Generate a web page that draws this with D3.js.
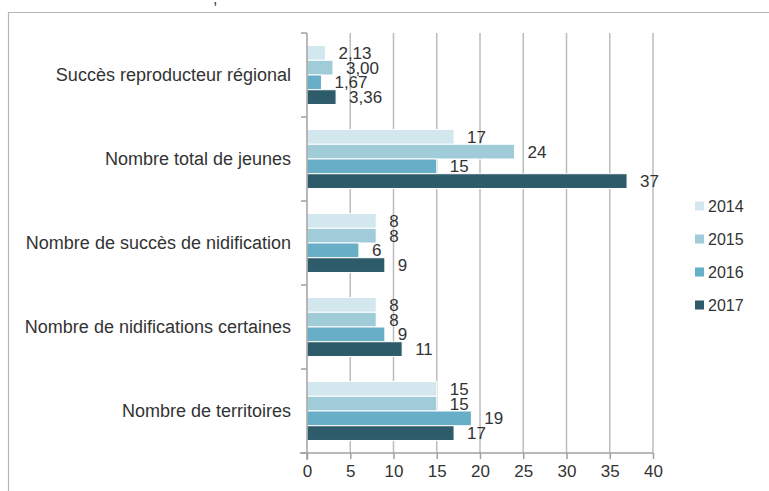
<!DOCTYPE html>
<html><head><meta charset="utf-8">
<script src="https://cdn.jsdelivr.net/npm/d3@7"></script>
<style>
body{margin:0;background:#fff;}
text{font-family:"Liberation Sans",Arial,sans-serif;fill:#333;}
</style></head>
<body><svg id="c" width="769" height="491"></svg>
<script>
const categories = ["Succès reproducteur régional","Nombre total de jeunes","Nombre de succès de nidification","Nombre de nidifications certaines","Nombre de territoires"];
const years = ["2014","2015","2016","2017"];
const v2014 = [2.13, 17, 8, 8, 15];
const v2015 = [3.00, 24, 8, 8, 15];
const v2016 = [1.67, 15, 6, 9, 19];
const v2017 = [3.36, 37, 9, 11, 17];
const decimals = [2, 0, 0, 0, 0];
const xTicks = [0,5,10,15,20,25,30,35,40];
const colors = ["#d3e7ee","#a0cbd9","#68aec6","#2e5b69"];

const series = [v2014, v2015, v2016, v2017];
const fmt = (v,i) => v.toFixed(decimals[i]).replace(".", ",");

const svg = d3.select("#c");
// cut-off text at top
svg.append("text").attr("x",213).attr("y",4).attr("font-size",16).text(",");
// frame
svg.append("line").attr("x1",8).attr("x2",769).attr("y1",12.5).attr("y2",12.5).attr("stroke","#b5b5b5").attr("stroke-width",1.2);
svg.append("line").attr("x1",8.5).attr("x2",8.5).attr("y1",12).attr("y2",491).attr("stroke","#b5b5b5").attr("stroke-width",1.2);

const x = d3.scaleLinear().domain([0,40]).range([307,653]);
const y = d3.scaleBand().domain(categories).range([33,453]);
const sub = d3.scaleBand().domain(years).range([0,y.bandwidth()]).paddingOuter(0.85).paddingInner(0);

// gridlines
svg.append("g").selectAll("line").data(xTicks.filter(t=>t>0)).join("line")
  .attr("x1",d=>x(d)).attr("x2",d=>x(d)).attr("y1",33).attr("y2",453)
  .attr("stroke","#bdbdbd").attr("stroke-width",1.5);

// bars
const g = svg.append("g");
categories.forEach((c,i)=>{
  years.forEach((yr,j)=>{
    const val = series[j][i];
    g.append("rect").attr("x",x(0)).attr("y",y(c)+sub(yr))
      .attr("width",x(val)-x(0)).attr("height",sub.bandwidth())
      .attr("fill",colors[j]).attr("stroke","#fff").attr("stroke-width",1);
    g.append("text").attr("x",x(val)+13).attr("y",y(c)+sub(yr)+sub.bandwidth()/2)
      .attr("dy","0.36em").attr("font-size",17).text(fmt(val,i));
  });
});

// x axis
const xa = svg.append("g").attr("transform","translate(0,453)").call(d3.axisBottom(x).tickValues(xTicks).tickSize(6).tickPadding(6));
xa.select(".domain").attr("stroke","#a0a0a0").attr("stroke-width",1.5).attr("d","M300,0H653");
xa.selectAll(".tick line").attr("stroke","#a0a0a0").attr("stroke-width",1.5);
xa.selectAll(".tick text").attr("font-size",17).attr("fill","#333").style("font-family","Liberation Sans, Arial, sans-serif");

// y axis
svg.append("line").attr("x1",307).attr("x2",307).attr("y1",33).attr("y2",460).attr("stroke","#a0a0a0").attr("stroke-width",1.5);
svg.append("g").selectAll("line").data(d3.range(categories.length+1)).join("line")
  .attr("x1",301).attr("x2",307).attr("y1",d=>33+d*y.step()).attr("y2",d=>33+d*y.step())
  .attr("stroke","#a0a0a0").attr("stroke-width",1.5);
svg.append("g").selectAll("text").data(categories).join("text")
  .attr("x",291).attr("y",d=>y(d)+y.bandwidth()/2).attr("dy","0.36em")
  .attr("text-anchor","end").attr("font-size",18).text(d=>d);

// legend
const lg = svg.append("g");
years.forEach((yr,j)=>{
  const cy = 206 + j*33;
  lg.append("rect").attr("x",695).attr("y",cy-4.5).attr("width",9).attr("height",9).attr("fill",colors[j]);
  lg.append("text").attr("x",708).attr("y",cy).attr("dy","0.36em").attr("font-size",16).text(yr);
});
</script></body></html>
